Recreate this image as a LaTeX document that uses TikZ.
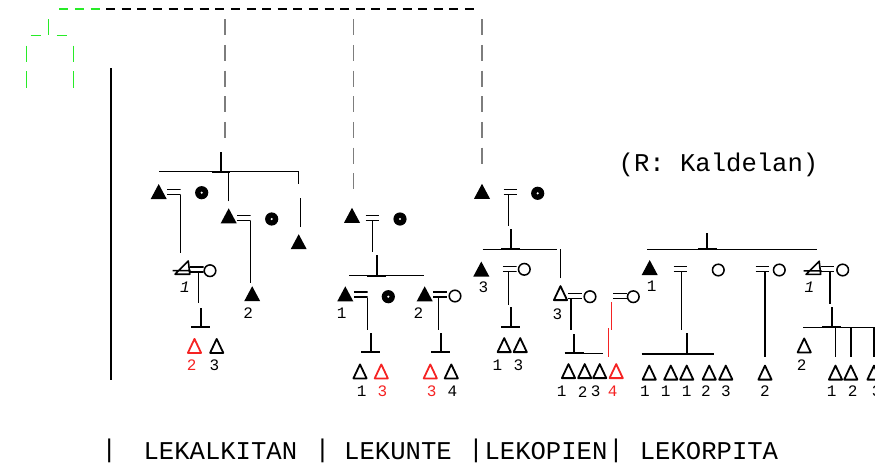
\documentclass[tikz,border=0pt]{standalone}
\usepackage{fontspec}
\newfontfamily\mono{Liberation Mono}
\definecolor{kingreen}{RGB}{40,235,40}
\definecolor{kinred}{RGB}{245,35,35}
\definecolor{kingray}{RGB}{125,125,125}
\tikzset{
  mal/.style={inner sep=0pt, outer sep=0pt, minimum width=8pt, minimum height=7.5pt,
    path picture={\fill (path picture bounding box.south west) -- (path picture bounding box.south east) -- (path picture bounding box.north) -- cycle;}},
  dlt/.style={inner sep=0pt, outer sep=0pt, minimum width=7.6pt, minimum height=8pt,
    path picture={\draw[line width=.9pt, line join=round] ([shift={(.5pt,.45pt)}]path picture bounding box.south west) -- ([shift={(-.5pt,.45pt)}]path picture bounding box.south east) -- ([yshift=-.55pt]path picture bounding box.north) -- cycle;}},
  xdl/.style={inner sep=0pt, outer sep=0pt, minimum width=9pt, minimum height=7.5pt,
    path picture={\draw[line width=.8pt, line join=round] ([shift={(1.2pt,.4pt)}]path picture bounding box.south west) -- ([shift={(-.45pt,.4pt)}]path picture bounding box.south east) -- ([shift={(-1.2pt,-.5pt)}]path picture bounding box.north east) -- cycle ([yshift=2.2pt]path picture bounding box.south west) -- ([yshift=2.2pt]path picture bounding box.south east);}},
  fbl/.style={circle, fill, inner sep=0pt, minimum size=6.6pt,
    path picture={\fill[white] (path picture bounding box.center) circle (.6pt);}},
  ocl/.style={circle, draw, line width=.75pt, inner sep=0pt, minimum size=5.8pt},
  eqs/.style={inner sep=0pt, outer sep=0pt, minimum width=6.8pt, minimum height=3.2pt,
    path picture={\draw[line width=.7pt] ([yshift=-.35pt]path picture bounding box.north west) -- ([yshift=-.35pt]path picture bounding box.north east) ([yshift=.35pt]path picture bounding box.south west) -- ([yshift=.35pt]path picture bounding box.south east);}},
  num/.style={inner sep=0pt, font=\mono\fontsize{8pt}{8pt}\selectfont},
  numi/.style={inner sep=0pt, font=\mono\itshape\fontsize{8pt}{8pt}\selectfont},
  tag/.style={inner sep=0pt, font=\mono\fontsize{12.8pt}{13pt}\selectfont},
  tk/.style={line width=1pt},
}
\begin{document}
\begin{tikzpicture}[x=0.5pt, y=-0.5pt, line width=0.7pt]
  \useasboundingbox (0,0) rectangle (875,467);
  % top rule
  \draw[kingreen, line width=1.4pt, dash pattern=on 4.5pt off 3.3pt] (59.3,9) -- (100,9);
  \draw[line width=1.4pt, dash pattern=on 4.5pt off 3.3pt] (106.1,9) -- (474,9);
  % green house
  \scope[kingreen]
  \draw (30.7,35.7) -- (40.7,35.7) (56.7,35.7) -- (66.7,35.7) (48.7,19.3) -- (48.7,35);
  \foreach \x in {26.7,73.3}
    \draw (\x,45.7) -- (\x,61.7) (\x,71) -- (\x,87.7);
  \endscope
  % left rule
  \draw[line width=1pt] (111,68.3) -- (111,380);
  % dashed descents
  \foreach \x/\y in {225/139,353.3/191.7,482/165}
    \draw[kingray, dash pattern=on 8pt off 4.83pt] (\x,19.3) -- (\x,\y);

  % LEKALKITAN
  \node[mal] (kaM1) at (158.7,191.5) {};
  \node[eqs] (kaE1) at (173.9,191.7) {};
  \node[fbl] (kaF1) at (201.7,192.7) {};
  \node[mal] (kaM2) at (228.7,215.8) {};
  \node[eqs] (kaE2) at (243.9,218) {};
  \node[fbl] (kaF2) at (271.7,219) {};
  \node[mal] (kaM3) at (298.7,241.7) {};
  \node[xdl] (kaX5) at (181.7,267.5) {};
  \node[numi] (kaN5) at (185,287.7) {1};
  \node[eqs] (kaE5) at (196.7,269.5) {};
  \node[ocl] (kaO5) at (210,270.7) {};
  \node[mal] (kaM4) at (252.2,293.7) {};
  \node[num] (kaN4) at (248.3,312.7) {2};
  \node[dlt, kinred] (kaD1) at (194.5,345.8) {};
  \node[num, kinred] (kaN1) at (191.7,365) {2};
  \node[dlt] (kaD2) at (216.7,345.8) {};
  \node[num] (kaN2) at (214.3,365) {3};
  \coordinate (kaH) at (220.7,171.7);
  \coordinate (kaJ5) at (200.7,326.7);
  \draw[tk] (kaH) -- ++(0,-20) (kaH) ++(-9,0) -- ++(18,0);
  \draw (kaH) ++(-61.7,0) -- ++(139.3,0) -- ++(0,12.3);
  \draw[shorten <=3.5pt] (kaM2.north) -- (kaM2.north |- kaH);
  \draw (kaM3.north) ++(2,-7) -- ++(0,-29);
  \draw[shorten >=3.5pt] (kaE1.south east) -- (kaE1.south east |- kaX5.north);
  \draw[shorten >=1.5pt] (kaE2.south east) -- (kaE2.south east |- kaM4.north);
  \draw ([xshift=.8pt]kaE5.south) -- ++(0,30.6);
  \draw[tk] (kaJ5) -- ++(0,-18.4) (kaJ5) ++(-9.5,0) -- ++(19,0);

  % LEKUNTE
  \node[mal] (kuM0) at (352,215.3) {};
  \node[eqs] (kuE0) at (372.5,218) {};
  \node[fbl] (kuF0) at (400,219) {};
  \node[mal] (kuM1) at (345.3,293.8) {};
  \node[num] (kuN1) at (341.7,313.3) {1};
  \node[eqs] (kuE1) at (360.7,294.5) {};
  \node[fbl] (kuF1) at (388.3,296.7) {};
  \node[mal] (kuM2) at (424.7,293.8) {};
  \node[num] (kuN2) at (418.3,313.3) {2};
  \node[eqs] (kuE2) at (440,294.5) {};
  \node[ocl] (kuO2) at (455,296) {};
  \node[dlt] (kuD1) at (360,371.3) {};
  \node[num] (kuN3) at (361.7,391.7) {1};
  \node[dlt, kinred] (kuD2) at (381.3,371.3) {};
  \node[num, kinred] (kuN4) at (382.3,391.7) {3};
  \node[dlt, kinred] (kuD3) at (430.3,371.3) {};
  \node[num, kinred] (kuN5) at (431.7,391.7) {3};
  \node[dlt] (kuD4) at (451.3,371.3) {};
  \node[num] (kuN6) at (452.3,391.7) {4};
  \coordinate (kuH) at (376.7,275.7);
  \coordinate (kuJ1) at (370.7,352.3);
  \coordinate (kuJ2) at (440.7,352.3);
  \draw (kuE0.south) -- ++(0,30.5);
  \draw[tk] (kuH) -- ++(0,-20.7) (kuH) ++(-9.5,0) -- ++(19,0);
  \draw (kuH) ++(-27.4,0) -- ++(74.7,0);
  \draw (kuE1.south east) -- ++(0,32.3);
  \draw (kuE2.south) ++(-1.7,0) -- ++(0,32.3);
  \foreach \j in {kuJ1,kuJ2}
    \draw[tk] (\j) -- ++(0,-19) (\j) ++(-9.5,0) -- ++(19,0);

  % LEKOPIEN
  \node[mal] (koM0) at (482,191.3) {};
  \node[eqs] (koE0) at (510.3,191.7) {};
  \node[fbl] (koF0) at (537.7,193.3) {};
  \node[mal] (koM1) at (481.3,269) {};
  \node[num] (koN1) at (483.3,287.3) {3};
  \node[eqs] (koE1) at (509.7,268.7) {};
  \node[ocl] (koO1) at (524.3,269.3) {};
  \node[dlt] (koD1) at (504.2,345) {};
  \node[num] (koN2) at (497.3,365) {1};
  \node[dlt] (koD2) at (520.2,345) {};
  \node[num] (koN3) at (518.3,365) {3};
  \node[dlt] (koD3) at (560.5,293) {};
  \node[num] (koN4) at (557.3,314) {3};
  \node[eqs] (koE2) at (575,296.2) {};
  \node[ocl] (koO2) at (590,296.7) {};
  \node[eqs] (koE3) at (620,295.8) {};
  \node[ocl] (koO3) at (633.3,296.7) {};
  \node[dlt] (koB1) at (568.5,371) {};
  \node[num] (koL1) at (561.7,391.7) {1};
  \node[dlt] (koB2) at (584.7,371) {};
  \node[num] (koL2) at (582.7,391.7) {2};
  \node[dlt] (koB3) at (599.7,371) {};
  \node[num] (koL3) at (595.7,391.7) {3};
  \node[dlt, kinred] (koB4) at (616.2,371) {};
  \node[num, kinred] (koL4) at (612.7,391.7) {4};
  \coordinate (koH) at (510.7,249.3);
  \coordinate (koJ1) at (510.7,326.7);
  \coordinate (koJ2) at (574,353.3);
  \draw (koE0.south) ++(-2,0) -- ++(0,31.1);
  \draw[tk] (koH) -- ++(0,-20) (koH) ++(-9.5,0) -- ++(19,0);
  \draw (koH) ++(-28,0) -- ++(74,0);
  \draw[shorten <=3.3pt] (koD3.north) -- (koD3.north |- koH);
  \draw (koE1.south) ++(-1.4,0) -- ++(0,33.1);
  \draw (koE2.south) ++(-4,0) -- ++(0,30.6);
  \foreach \j in {koJ1,koJ2}
    \draw[tk] (\j) -- ++(0,-19.4) (\j) ++(-9.5,0) -- ++(19,0);
  \draw (koJ2) -- ++(28.7,0);
  \draw[kinred] (koE3.south west) ++(-1.5,3.3) -- ++(0,27.7) ++(-3,-1.7) -- ++(0,28.4);

  % LEKORPITA
  \node[mal] (krM1) at (649.7,267.5) {};
  \node[num] (krN1) at (651.7,286) {1};
  \node[eqs] (krE1) at (680.3,268.8) {};
  \node[ocl] (krO1) at (718.3,270) {};
  \node[eqs] (krE2) at (762.5,268.8) {};
  \node[ocl] (krO2) at (779.3,270) {};
  \node[xdl] (krX3) at (812.6,267.7) {};
  \node[numi] (krN3) at (809.3,287.3) {1};
  \node[eqs] (krE3) at (827.5,268.8) {};
  \node[ocl] (krO3) at (842.7,270) {};
  \node[dlt] (krD4) at (804.2,345.3) {};
  \node[num] (krN4) at (801.7,365) {2};
  \foreach \x/\l/\n [count=\i] in {649.2/645/1,670.8/665.7/1,686.7/686.7/1,709.2/706/2,725.8/726/3}
    \node[dlt] (krB\i) at (\x,372.5) {} node[num] (krL\i) at (\l,391) {\n};
  \node[dlt] (krD6) at (765,372.5) {};
  \node[num] (krN6) at (765,391) {2};
  \foreach \x/\l/\n [count=\i from 7] in {835.5/831.7/1,850.8/852.7/2,874/876.7/3}
    \node[dlt] (krB\i) at (\x,372.5) {} node[num] (krL\i) at (\l,391) {\n};
  \coordinate (krH) at (707.3,249.3);
  \coordinate (krJ1) at (686.7,354);
  \coordinate (krJ3) at (831.7,327.3);
  \draw[tk] (krH) -- ++(0,-16.6) (krH) ++(-9.5,0) -- ++(19,0);
  \draw (krH) ++(-60,0) -- ++(169.4,0);
  \draw (krE1.south) ++(1.4,0) -- ++(0,58);
  \draw[tk] (krJ1) -- ++(0,-20.7) (krJ1) ++(-9.5,0) -- ++(19,0);
  \draw (krJ1) ++(-45,0) -- ++(72.3,0);
  \draw[shorten >=4pt] (krE2.south -| krD6.north) -- (krD6.north);
  \draw (krE3.south) ++(2.5,0) -- ++(0,32);
  \draw[tk] (krJ3) -- ++(0,-20) (krJ3) ++(-9.5,0) -- ++(19,0);
  \draw (krJ3) ++(-28.4,0) -- ++(71.7,0);
  \foreach \b in {krB7,krB8,krB9}
    \draw[shorten >=4pt] (\b.north |- krJ3) -- (\b.north);

  % captions
  \node[tag] (kaldelan) at (718.5,165) {(R: Kaldelan)};
  \foreach \x [count=\i] in {109.2,322.5,476,616}
    \node[tag] (bar\i) at (\x,451) {|};
  \node[tag] (lekalkitan) at (220.4,451) {LEKALKITAN};
  \node[tag] (lekunte) at (398,451) {LEKUNTE};
  \node[tag] (lekopien) at (546,451) {LEKOPIEN};
  \node[tag] (lekorpita) at (709,451) {LEKORPITA};
\end{tikzpicture}
\end{document}
